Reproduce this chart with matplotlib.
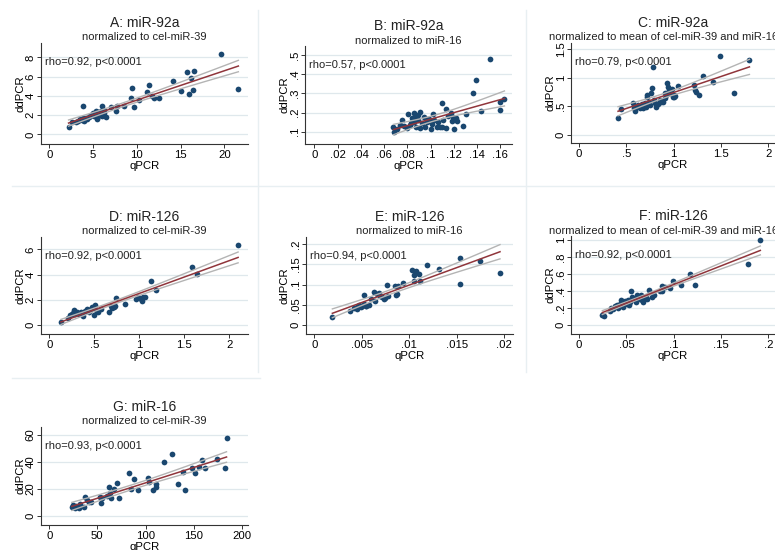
import numpy as np
import matplotlib
matplotlib.use("Agg")
import matplotlib.pyplot as plt
from matplotlib.ticker import FuncFormatter

plt.rcParams['font.family'] = ['Liberation Sans', 'DejaVu Sans']

# --- data (qPCR vs ddPCR) ---
a_x = [2.2, 2.6, 3.1, 3.3, 3.5, 3.7, 3.8, 3.9, 4.0, 4.2, 4.3, 4.5, 4.7, 4.8, 5.0, 5.1, 5.2, 5.3, 5.4, 5.5,
       5.6, 5.8, 5.9, 6.0, 6.0, 6.2, 6.3, 6.5, 7.0, 7.6, 7.7, 8.5, 9.3, 9.4, 9.7, 10.3, 11.2, 11.4, 11.7, 12.0,
       12.5, 14.1, 15.0, 15.7, 16.0, 16.2, 16.4, 16.5, 19.6, 21.6]
a_y = [0.75, 1.25, 1.25, 1.35, 1.55, 1.45, 2.95, 1.7, 1.4, 1.75, 1.55, 1.8, 1.95, 2.05, 2.25, 1.95, 2.1, 2.4, 1.7, 1.6,
       2.3, 2.05, 2.45, 2.95, 1.95, 2.2, 2.5, 1.8, 2.85, 2.45, 2.95, 3.0, 3.8, 4.85, 2.85, 3.6, 4.4, 5.1, 3.95, 3.8,
       3.75, 5.55, 4.5, 6.5, 4.15, 5.85, 4.6, 6.6, 8.35, 4.7]

b_x = [.0681, .0687, .071, .0739, .0753, .0796, .0802, .0825, .084, .0854, .086, .0868, .0877, .0888, .0905, .091,
       .0925, .094, .0954, .0969, .099, .1003, .102, .103, .1055, .1078, .1095, .1098, .111, .1135, .1147, .1176,
       .1193, .120, .1216, .1227, .128, .1305, .1365, .1394, .143, .1515, .1595, .1595, .1635,
       .077, .083, .089, .096, .101, .106, .113, .118]
b_y = [.123, .100, .112, .135, .161, .117, .195, .135, .170, .199, .152, .178, .123, .161, .117, .204,
       .143, .178, .123, .152, .164, .112, .190, .161, .123, .123, .124, .251, .161, .217, .183, .200,
       .176, .112, .170, .155, .131, .192, .300, .370, .208, .479, .253, .211, .269,
       .128, .145, .185, .165, .138, .150, .120, .155]

c_x = [.412, .447, .57, .588, .606, .623, .641, .658, .676, .694, .704, .715, .722, .736, .746, .764, .775, .782,
       .792, .806, .817, .834, .87, .887, .905, .912, .93, .94, .95, .96, .975, .993, 1.003, 1.017, 1.046,
       1.215, 1.222, 1.24, 1.264, 1.313, 1.42, 1.49, 1.637, 1.80, .58, .66, .86, .92, .98, 1.0]
c_y = [.303, .455, .554, .426, .496, .525, .467, .508, .467, .566, .496, .700, .66, .584, .525, .730, .817, 1.185,
       .613, .555, .496, .543, .584, .584, .642, .730, .917, .847, .788, .730, .742, .672, .70, .683, .864,
       .876, .788, .759, .70, 1.04, .93, 1.38, .73, 1.31, .48, .55, .62, .70, .80, .66]

d_x = [.13, .21, .23, .25, .26, .28, .29, .31, .33, .35, .38, .40, .42, .44, .46, .48, .50, .51, .52, .54,
       .57, .66, .69, .70, .72, .73, .74, .84, .96, .99, 1.02, 1.03, 1.04, 1.06, 1.13, 1.19, 1.59, 1.64, 2.10]
d_y = [.26, .55, .79, .85, .95, 1.19, .9, 1.05, .85, 1.0, .71, 1.15, 1.24, 1.05, 1.3, 1.40, .79, 1.59, 1.2, 1.06,
       1.25, 1.06, 1.51, 1.35, 1.4, 1.51, 2.12, 1.64, 2.09, 2.2, 2.04, 1.9, 2.2, 2.25, 3.47, 2.78, 4.63, 4.05, 6.38]

e_x = [.0019, .00376, .0042, .00447, .0047, .0050, .0052, .00524, .0054, .0058, .0063, .0064, .0066, .0068, .0071,
       .0073, .0075, .00763, .0085, .0086, .0087, .0094, .0103, .0105, .0107, .0110, .0111, .01185, .0131, .01536,
       .0154, .01747, .01958, .0045, .0049, .0055, .006, .0069, .0078, .0088, .0105]
e_y = [.019, .0355, .042, .0447, .0504, .047, .053, .0736, .046, .050, .0818, .059, .077, .079, .069,
       .065, .066, .098, .0967, .075, .078, .104, .1356, .125, .133, .127, .1083, .1496, .1397, .1670,
       .1025, .1587, .129, .040, .044, .046, .065, .072, .071, .097, .110]

f_x = [.0246, .0264, .0326, .0361, .0396, .0414, .0442, .0456, .0477, .0502, .052, .0537, .0548, .0562, .0583,
       .0608, .0626, .0654, .0668, .0679, .0703, .0739, .0774, .0877, .0905, .0958, .0993, .1074, .1169, .1222,
       .1785, .1915, .034, .038, .043, .046, .049, .053, .057, .060, .064, .072, .079, .085, .088]
f_y = [.114, .106, .161, .184, .231, .200, .290, .239, .263, .251, .290, .27, .396, .329, .31,
       .357, .329, .357, .29, .27, .329, .408, .329, .459, .447, .435, .514, .475, .604, .475,
       .722, 1.004, .20, .22, .25, .21, .28, .24, .30, .27, .30, .30, .35, .40, .40]

g_x = [23.4, 25, 27, 28, 30.5, 32, 35.7, 37.5, 39, 41, 43, 52.5, 53.3, 55, 60, 62, 63, 63.8, 67.3, 70, 72.6,
       82.5, 84.9, 88.4, 92.6, 102.5, 104, 107.7, 111, 111, 119, 128, 134, 139, 141, 148, 151.6, 155.8, 158.6,
       162, 174, 182.5, 184.2]
g_y = [6.7, 8, 5.5, 7.5, 5.5, 8.5, 6.7, 14.1, 12, 10.5, 10, 14.1, 9.2, 13.5, 15, 21.6, 17, 12.9, 19.9, 24, 12.9,
       31.5, 19.9, 27.3, 19.1, 27.8, 25, 19.1, 23.3, 21.5, 39.7, 45.7, 23.6, 32.3, 19.1, 35.7, 31.5, 36.5, 41.4,
       35.7, 42.2, 35.7, 57.6]

titles = ["A: miR-92a", "B: miR-92a", "C: miR-92a", "D: miR-126", "E: miR-126", "F: miR-126", "G: miR-16"]
subtitles = ["normalized to cel-miR-39", "normalized to miR-16", "normalized to mean of cel-miR-39 and miR-16",
             "normalized to cel-miR-39", "normalized to miR-16", "normalized to mean of cel-miR-39 and miR-16",
             "normalized to cel-miR-39"]
rho_labels = ["rho=0.92, p<0.0001", "rho=0.57, p<0.0001", "rho=0.79, p<0.0001", "rho=0.92, p<0.0001",
              "rho=0.94, p<0.0001", "rho=0.92, p<0.0001", "rho=0.93, p<0.0001"]
xtick_sets = [[0, 5, 10, 15, 20], [0, .02, .04, .06, .08, .1, .12, .14, .16], [0, .5, 1, 1.5, 2],
              [0, .5, 1, 1.5, 2], [0, .005, .01, .015, .02], [0, .05, .1, .15, .2], [0, 50, 100, 150, 200]]
ytick_sets = [[0, 2, 4, 6, 8], [.1, .2, .3, .4, .5], [0, .5, 1, 1.5],
              [0, 2, 4, 6], [0, .05, .1, .15, .2], [0, .2, .4, .6, .8, 1], [0, 20, 40, 60]]

NAVY = "#1a476f"
MAROON = "#90353b"
CI_GRAY = "#b4b4b4"
GRID = "#dfe8ec"

W, H = 775, 550


def stata_fmt(v, pos=None):
    s = f"{round(v, 6):g}"
    if s.startswith("0."):
        s = s[1:]
    return s


def fit_ci(x, y):
    x = np.asarray(x, float)
    y = np.asarray(y, float)
    b, a = np.polyfit(x, y, 1)
    xs = np.linspace(x.min(), x.max(), 100)
    yhat = a + b * xs
    resid = y - (a + b * x)
    s = np.sqrt(np.sum(resid ** 2) / (len(x) - 2))
    sxx = np.sum((x - x.mean()) ** 2)
    se = s * np.sqrt(1 / len(x) + (xs - x.mean()) ** 2 / sxx)
    return xs, yhat, yhat - 2.01 * se, yhat + 2.01 * se


# layout in pixels: (left, top, right, bottom), xlim, ylim, subtitle centre
panels = [
    ((41, 43, 248, 144), (-0.95, 22.7), (-1.0, 9.5), a_x, a_y, None),
    ((305, 46, 512, 144), (-0.008, 0.170), (0.036, 0.547), b_x, b_y, None),
    ((571, 43, 775, 143), (-0.085, 2.07), (-0.14, 1.61), c_x, c_y, 664),
    ((41, 237, 248, 334), (-0.092, 2.21), (-0.71, 6.98), d_x, d_y, None),
    ((306, 237, 513, 334), (-0.00088, 0.02095), (-0.0223, 0.218), e_x, e_y, None),
    ((571, 236, 775, 334), (-0.0085, 0.207), (-0.106, 1.047), f_x, f_y, 664),
    ((41, 427, 248, 525), (-8.6, 206.5), (-6.9, 66), g_x, g_y, None),
]

fig = plt.figure(figsize=(W / 100, H / 100), dpi=100)

# faint panel outlines
sep = "#e8eff2"
for (x0, y0, x1, y1) in [(258, 10, 258, 372), (526, 10, 526, 372), (12, 186, 775, 186), (12, 378, 260, 378)]:
    fig.add_artist(plt.Line2D([x0 / W, x1 / W], [1 - y0 / H, 1 - y1 / H], color=sep, lw=1.0))

for i, (box, xl, yl, xs_, ys_, sub_cx) in enumerate(panels):
    l, t, r, b = box
    ax = fig.add_axes([l / W, 1 - b / H, (r - l) / W, (b - t) / H])
    ax.set_xlim(*xl)
    ax.set_ylim(*yl)

    ax.scatter(xs_, ys_, s=17, color=NAVY, linewidths=0, zorder=3)
    fx, fy, lo, hi = fit_ci(xs_, ys_)
    ax.plot(fx, lo, color=CI_GRAY, lw=1.0, zorder=4)
    ax.plot(fx, hi, color=CI_GRAY, lw=1.0, zorder=4)
    ax.plot(fx, fy, color=MAROON, lw=1.1, zorder=5)

    ax.set_xticks(xtick_sets[i])
    ax.set_yticks(ytick_sets[i])
    ax.xaxis.set_major_formatter(FuncFormatter(stata_fmt))
    ax.yaxis.set_major_formatter(FuncFormatter(stata_fmt))
    ax.tick_params(axis='both', labelsize=8.2, length=2.6, width=0.7, color="#333333")
    ax.tick_params(axis='x', pad=2)
    ax.tick_params(axis='y', pad=1.2)
    plt.setp(ax.get_yticklabels(), rotation=90, va='center')
    ax.grid(axis='y', color=GRID, lw=0.9)
    ax.set_axisbelow(True)
    for side in ['top', 'right']:
        ax.spines[side].set_visible(False)
    for side in ['left', 'bottom']:
        ax.spines[side].set_color("#333333")
        ax.spines[side].set_linewidth(0.8)

    ax.set_xlabel("qPCR", fontsize=8.2)
    ax.set_ylabel("ddPCR", fontsize=8.2)
    ax.xaxis.set_label_coords(0.5, -17 / (b - t))
    ax.yaxis.set_label_coords(-16 / (r - l), 0.5)

    ax.text(4 / (r - l), 1 - 19 / (b - t), rho_labels[i], transform=ax.transAxes,
            fontsize=8, va='center', ha='left', color="#222222")

    cx = (l + r) / 2 / W
    scx = cx if sub_cx is None else sub_cx / W
    fig.text(cx, 1 - (t - 20) / H, titles[i], fontsize=10, ha='center', va='center', color="#222222")
    fig.text(scx, 1 - (t - 5.5) / H, subtitles[i], fontsize=8, ha='center', va='center', color="#222222")

fig.savefig("out.png", dpi=100)
